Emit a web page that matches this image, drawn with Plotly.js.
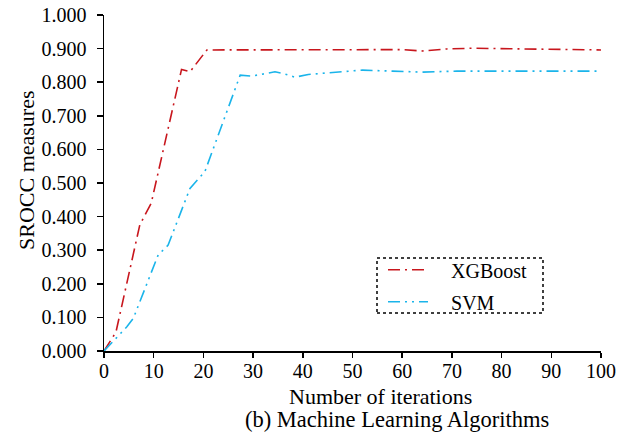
<!DOCTYPE html>
<html>
<head>
<meta charset="utf-8">
<script src="https://cdn.plot.ly/plotly-3.0.1.min.js"></script>
<style>html,body{margin:0;padding:0;background:#fff;}#chart{width:627px;height:433px;}</style>
</head>
<body>
<div id="chart"></div>
<script>
const xgbIter = [0, 2.4, 7.2, 8.2, 9.5, 15.6, 17.3, 20.7, 30, 40, 50, 60, 64, 69, 74, 79, 85, 90, 100];
const xgbSrocc = [0, 0.056, 0.375, 0.405, 0.44, 0.838, 0.831, 0.896, 0.896, 0.897, 0.897, 0.897, 0.893, 0.899, 0.901, 0.900, 0.897, 0.896, 0.896];
const svmIter = [0, 3.6, 4.6, 5.9, 10.9, 12.9, 17.3, 20.3, 27.4, 29.7, 34.4, 36, 38.4, 41.1, 45.8, 52, 58, 64, 71, 80, 90, 100];
const svmSrocc = [0, 0.057, 0.072, 0.097, 0.286, 0.315, 0.484, 0.534, 0.821, 0.818, 0.831, 0.826, 0.815, 0.823, 0.829, 0.836, 0.833, 0.830, 0.833, 0.833, 0.833, 0.833];
const seriesNames = ["XGBoost", "SVM"];
const xTicks = [0, 10, 20, 30, 40, 50, 60, 70, 80, 90, 100];
const yTicks = [0, 0.1, 0.2, 0.3, 0.4, 0.5, 0.6, 0.7, 0.8, 0.9, 1.0];
const xTitle = "Number of iterations";
const yTitle = "SROCC measures";
const caption = "(b) Machine Learning Algorithms";

const serif = "'Liberation Serif', 'Times New Roman', Times, serif";
const pad = "\u2002\u2009\u2009";
const traces = [
  {x: xgbIter, y: xgbSrocc, name: pad + seriesNames[0], legendgroup: "a", mode: "lines",
   line: {color: "#c8161d", width: 1.6, dash: "12px,5px,2px,5px"}},
  {x: svmIter, y: svmSrocc, name: pad + seriesNames[1], legendgroup: "b", mode: "lines",
   line: {color: "#1ab4ea", width: 1.6, dash: "12px,5px,2px,5px,2px,5px"}}
];
const layout = {
  width: 627, height: 433,
  margin: {l: 104, r: 26, t: 15, b: 82},
  paper_bgcolor: "#fff", plot_bgcolor: "#fff",
  font: {family: serif, color: "#000", size: 20},
  showlegend: true,
  legend: {x: 0.5614, y: 0.30, xanchor: "left", yanchor: "top",
           bgcolor: "rgba(0,0,0,0)", borderwidth: 0, itemwidth: 40, tracegroupgap: 3,
           font: {family: serif, size: 20, color: "#000"}},
  xaxis: {range: [0, 100], tickvals: xTicks, ticktext: xTicks.map(String),
          showgrid: false, zeroline: false, showline: true, linecolor: "#000", linewidth: 1.5,
          ticks: "outside", ticklen: 5, tickwidth: 1.5, tickcolor: "#000", ticklabelstandoff: -4,
          tickfont: {family: serif, size: 20, color: "#000"}, fixedrange: true},
  yaxis: {range: [0, 1], tickvals: yTicks, ticktext: yTicks.map(v => v.toFixed(3)),
          showgrid: false, zeroline: false, showline: true, linecolor: "#000", linewidth: 1.5,
          ticks: "outside", ticklen: 6, tickwidth: 1.5, tickcolor: "#000", ticklabelstandoff: 6,
          tickfont: {family: serif, size: 20, color: "#000"}, fixedrange: true},
  shapes: [{type: "rect", xref: "paper", yref: "paper",
            x0: (377 - 104) / 497, x1: (543 - 104) / 497, y0: (351 - 313) / 336, y1: (351 - 258) / 336,
            line: {color: "#000", width: 1.5, dash: "dot"}}],
  annotations: [
    {text: xTitle, xref: "paper", yref: "paper", x: (380 - 104) / 497, y: -(396.5 - 351) / 336,
     xanchor: "center", yanchor: "middle", showarrow: false, font: {family: serif, size: 22, color: "#000"}},
    {text: caption, xref: "paper", yref: "paper", x: (397 - 104) / 497, y: -(419.5 - 351) / 336,
     xanchor: "center", yanchor: "middle", showarrow: false, font: {family: serif, size: 22.5, color: "#000"}},
    {text: yTitle, xref: "paper", yref: "paper", x: -(104 - 26) / 497, y: (351 - 170) / 336,
     xanchor: "center", yanchor: "middle", textangle: -90, showarrow: false, font: {family: serif, size: 22, color: "#000"}}
  ]
};
Plotly.newPlot("chart", traces, layout, {staticPlot: true, displayModeBar: false});
</script>
</body>
</html>
